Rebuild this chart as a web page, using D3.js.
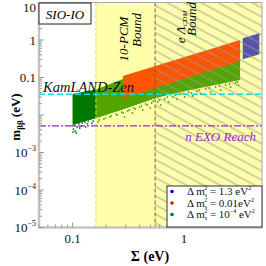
<!DOCTYPE html>
<html><head><meta charset="utf-8">
<script src="https://cdn.jsdelivr.net/npm/d3@7"></script>
<style>body{margin:0;background:#fff}svg{display:block}text{font-family:"Liberation Serif","DejaVu Serif",serif}</style>
</head><body><svg id="c" width="266" height="266"></svg>
<script>
// ---- data ----
const xDomain = [0.05, 5];
const yDomain = [1e-5, 10];
const pcmBound = 0.162;
const lcdmBound = 0.55;
const kamlandZen = 0.0356;
const nexoReach = 0.0051;

// green band (dm2 = 1e-4 eV^2), dense region
const greenSigma = [0.1, 0.162, 0.283, 0.55, 1.13, 3.18];
const greenHi    = [0.0363, 0.048, 0.091, 0.17, 0.33, 0.8];
const greenLo    = [0.0054, 0.0083, 0.0141, 0.0284, 0.0464, 0.0858];
// green sparse tail points [sigma, m]
const greenTail = [
 [0.101,0.0051],[0.102,0.0042],[0.101,0.0035],[0.105,0.0054],[0.106,0.0037],[0.110,0.0048],[0.108,0.0033],
 [0.114,0.0058],[0.116,0.0045],[0.122,0.0061],[0.120,0.0051],[0.129,0.0065],[0.131,0.0048],
 [0.138,0.0069],[0.136,0.0058],[0.146,0.0078],[0.149,0.0061],[0.156,0.0083],[0.153,0.0069],
 [0.166,0.0088],[0.169,0.0065],[0.176,0.0090],[0.173,0.0074],[0.188,0.0100],[0.191,0.0078],
 [0.200,0.0102],[0.197,0.0083],[0.212,0.0113],[0.216,0.0088],[0.226,0.0120],[0.222,0.0094],
 [0.240,0.0128],[0.244,0.0106],[0.256,0.0136],[0.252,0.0100],[0.272,0.0145],[0.276,0.0120],
 [0.289,0.0154],[0.284,0.0113],[0.293,0.0088],[0.308,0.0163],[0.312,0.0128],[0.327,0.0174],[0.322,0.0136],
 [0.348,0.0185],[0.353,0.0154],[0.344,0.0113],[0.371,0.0197],[0.366,0.0145],[0.394,0.0209],[0.400,0.0163],
 [0.420,0.0222],[0.414,0.0174],[0.426,0.0136],[0.446,0.0236],[0.452,0.0197],[0.475,0.0251],[0.468,0.0185],
 [0.505,0.0267],[0.512,0.0209],[0.498,0.0154],[0.538,0.0284],[0.530,0.0236],[0.572,0.0302],[0.580,0.0222],
 [0.608,0.0321],[0.600,0.0251],[0.616,0.0185],[0.661,0.0341],[0.670,0.0267],[0.718,0.0363],[0.708,0.0302],[0.728,0.0222],
 [0.780,0.0386],[0.790,0.0302],[0.847,0.0411],[0.835,0.0341],[0.860,0.0267],[0.919,0.0437],[0.930,0.0363],
 [0.999,0.0464],[0.985,0.0363],[1.012,0.0302],[1.085,0.0494],[1.100,0.0411],[1.178,0.0494],[1.160,0.0386],[1.195,0.0321],
 [1.279,0.0525],[1.300,0.0437],[1.390,0.0558],[1.370,0.0464],[1.410,0.0363],[1.541,0.0593],[1.560,0.0494],
 [1.709,0.0631],[1.690,0.0525],[1.730,0.0411],[1.894,0.0671],[1.920,0.0558],[2.100,0.0713],[2.070,0.0593],[2.130,0.0464],
 [2.329,0.0759],[2.360,0.0631],[2.582,0.0807],[2.550,0.0671],[2.610,0.0558],[2.863,0.0858],[2.900,0.0713],
 [3.047,0.0912],[3.010,0.0759],[3.080,0.0631]
];
// red band (dm2 = 0.01 eV^2)
const redSigma = [0.283, 3.18];
const redHi    = [0.11, 1.0];
const redLo    = [0.028, 0.275];
// blue band (dm2 = 1.3 eV^2)
const blueSigma = [3.36, 4.73];
const blueHi    = [1.11, 1.51];
const blueLo    = [0.305, 0.416];

const yTickVals   = [10, 1, 0.1, 1e-3, 1e-4, 1e-5];
const yTickBase   = ["10", "1", "0.1", "10", "10", "10"];
const yTickExp    = ["", "", "", "−3", "−4", "−5"];
const xTickVals   = [0.1, 1];
const xTickLabels = ["0.1", "1"];

const legendItems = [
  {color:"#0000ff", val:"= 1.3 eV", sup:"2"},
  {color:"#ff0000", val:"= 0.01eV", sup:"2"},
  {color:"#008000", val:"= 10", exp:"−4", val2:" eV", sup:"2"}
];

// ---- layout ----
const L = 39, R = 262, T = 2.5, B = 227.5;
const svg = d3.select("#c");
const x = d3.scaleLog().domain(xDomain).range([L, R]);
const y = d3.scaleLog().domain(yDomain).range([B, T]);

const defs = svg.append("defs");
defs.append("clipPath").attr("id","plot").append("rect")
  .attr("x",L).attr("y",T).attr("width",R-L).attr("height",B-T);
const pat = defs.append("pattern").attr("id","hatch").attr("patternUnits","userSpaceOnUse")
  .attr("width",8).attr("height",8).attr("patternTransform","rotate(28)");
pat.append("line").attr("x1",0).attr("y1",4).attr("x2",8).attr("y2",4)
  .attr("stroke","#999").attr("stroke-width",0.9);

const g = svg.append("g").attr("clip-path","url(#plot)");

const area = d3.area().x(d=>x(d.s)).y0(d=>y(d.lo)).y1(d=>y(d.hi));
const band = (S,H,Lo)=>S.map((s,i)=>({s, hi:H[i], lo:Lo[i]}));

g.append("path").attr("d",area(band(greenSigma,greenHi,greenLo))).attr("fill","#007800");
g.selectAll("circle.tail").data(greenTail).join("circle").attr("class","tail")
  .attr("cx",d=>x(d[0])).attr("cy",d=>y(d[1])).attr("r",0.9).attr("fill","#007800");
g.append("path").attr("d",area(band(redSigma,redHi,redLo))).attr("fill","#ff0000");
g.append("path").attr("d",area(band(blueSigma,blueHi,blueLo))).attr("fill","#0000ff");

// yellow overlay
g.append("rect").attr("x",x(pcmBound)).attr("y",T).attr("width",R-x(pcmBound)).attr("height",B-T)
  .attr("fill","#ffff00").attr("fill-opacity",0.33);
// hatch
g.append("rect").attr("x",x(lcdmBound)).attr("y",T).attr("width",R-x(lcdmBound)).attr("height",B-T)
  .attr("fill","url(#hatch)");

// bound lines
g.append("line").attr("x1",x(pcmBound)).attr("x2",x(pcmBound)).attr("y1",T).attr("y2",B)
  .attr("stroke","#e8d860").attr("stroke-width",1).attr("stroke-dasharray","4,2");
g.append("line").attr("x1",x(lcdmBound)).attr("x2",x(lcdmBound)).attr("y1",T).attr("y2",B)
  .attr("stroke","#8b5a1a").attr("stroke-width",1).attr("stroke-dasharray","4,2");
// experimental lines
g.append("line").attr("x1",L).attr("x2",R).attr("y1",y(kamlandZen)).attr("y2",y(kamlandZen))
  .attr("stroke","#00e0f0").attr("stroke-width",1.5).attr("stroke-dasharray","6,3");
g.append("line").attr("x1",L).attr("x2",R).attr("y1",y(nexoReach)).attr("y2",y(nexoReach))
  .attr("stroke","#9a20e0").attr("stroke-width",1.2).attr("stroke-dasharray","7,2,2,2");

// frame
svg.append("rect").attr("x",L).attr("y",T).attr("width",R-L).attr("height",B-T)
  .attr("fill","none").attr("stroke","#aaa").attr("stroke-width",1);
svg.append("line").attr("x1",L).attr("x2",L).attr("y1",T).attr("y2",B+1).attr("stroke","#c4c4c4").attr("stroke-width",2.5);
svg.append("line").attr("x1",L-1).attr("x2",R).attr("y1",B).attr("y2",B).attr("stroke","#c4c4c4").attr("stroke-width",2.5);

// ticks
const tickG = svg.append("g").attr("stroke","#999").attr("stroke-width",1);
for (let e=-5;e<1;e++) for (let k=1;k<10;k++){
  const v=k*Math.pow(10,e); const yy=y(v); const len = k===1?5:3;
  tickG.append("line").attr("x1",L).attr("x2",L+len).attr("y1",yy).attr("y2",yy);
}
[0.05,0.06,0.07,0.08,0.09,0.1,0.2,0.3,0.4,0.5,0.6,0.7,0.8,0.9,1,2,3,4,5].forEach(v=>{
  const xx=x(v); const len=(v===0.1||v===1)?5:3;
  tickG.append("line").attr("x1",xx).attr("x2",xx).attr("y1",B).attr("y2",B-len);
});

// tick labels
yTickVals.forEach((v,i)=>{
  const t = svg.append("text").attr("x",36).attr("y",Math.max(y(v)+4.5,12)).attr("text-anchor","end")
    .attr("font-size",13).attr("fill","#111");
  t.append("tspan").text(yTickBase[i]);
  if (yTickExp[i]) t.append("tspan").attr("font-size",8).attr("dy",-6).text(yTickExp[i]);
});
xTickVals.forEach((v,i)=>{
  svg.append("text").attr("x",x(v)).attr("y",243).attr("text-anchor","middle")
    .attr("font-size",13).attr("fill","#111").text(xTickLabels[i]);
});

// axis titles
svg.append("text").attr("x",150).attr("y",261).attr("text-anchor","middle")
  .attr("font-size",14).attr("font-weight","bold").text("Σ (eV)");
const yl = svg.append("text").attr("transform","translate(20,117) rotate(-90)").attr("text-anchor","middle")
  .attr("font-size",13).attr("font-weight","bold");
yl.append("tspan").text("m");
yl.append("tspan").attr("font-size",9).attr("dy",3).text("ββ");
yl.append("tspan").attr("dy",-3).text(" (eV)");

// annotations
svg.append("rect").attr("x",39).attr("y",3).attr("width",52).attr("height",21)
  .attr("fill","#fff").attr("stroke","#222").attr("stroke-width",1);
svg.append("text").attr("x",65).attr("y",19).attr("text-anchor","middle").attr("font-size",13)
  .attr("font-style","italic").text("SIO-IO");

svg.append("text").attr("x",43).attr("y",92).attr("font-size",14.5).attr("font-style","italic")
  .attr("fill","#111").text("KamLAND-Zen");
svg.append("text").attr("x",256).attr("y",141).attr("text-anchor","end").attr("font-size",13)
  .attr("font-style","italic").attr("fill","#9a20e0").text("n EXO Reach");

svg.append("text").attr("transform","translate(128,39) rotate(-90)").attr("text-anchor","middle")
  .attr("font-size",13).attr("font-style","italic").text("10-PCM");
svg.append("text").attr("transform","translate(141,30) rotate(-90)").attr("text-anchor","middle")
  .attr("font-size",13).attr("font-style","italic").text("Bound");
const el = svg.append("text").attr("transform","translate(185,27) rotate(-90)").attr("text-anchor","middle")
  .attr("font-size",13).attr("font-style","italic");
el.append("tspan").text("e Λ");
el.append("tspan").attr("font-size",7).attr("dy",2).text("CDM");
svg.append("text").attr("transform","translate(196,19) rotate(-90)").attr("text-anchor","middle")
  .attr("font-size",13).attr("font-style","italic").text("Bound");

// legend
svg.append("rect").attr("x",167).attr("y",186).attr("width",95).attr("height",41)
  .attr("fill","#fff").attr("stroke","#333").attr("stroke-width",1);
legendItems.forEach((d,i)=>{
  const yy = 195 + i*11.5;
  svg.append("circle").attr("cx",172).attr("cy",yy-3.5).attr("r",1.8).attr("fill",d.color);
  const t = svg.append("text").attr("x",187).attr("y",yy).attr("font-size",11).attr("fill","#111");
  t.append("tspan").text("Δ m");
  t.append("tspan").attr("font-size",6).attr("dy",2).text("s");
  t.append("tspan").attr("font-size",6).attr("dx",-3).attr("dy",-7).text("2");
  t.append("tspan").attr("dy",5).text(" "+d.val);
  if (d.exp){ t.append("tspan").attr("font-size",6).attr("dy",-5).text(d.exp);
              t.append("tspan").attr("dy",5).text(d.val2); }
  t.append("tspan").attr("font-size",6).attr("dy",-5).text(d.sup);
});
</script></body></html>
